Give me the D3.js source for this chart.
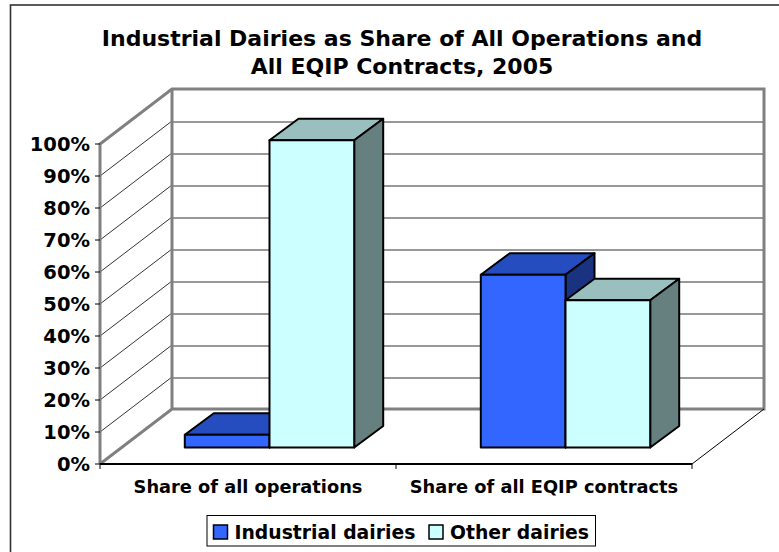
<!DOCTYPE html>
<html><head><meta charset="utf-8">
<script src="https://cdn.jsdelivr.net/npm/d3@7"></script>
<style>html,body{margin:0;padding:0;background:#fff}svg{display:block}text{font-family:"DejaVu Sans",Verdana,sans-serif;font-weight:bold;fill:#000}</style>
</head><body><script>
const categories=["Share of all operations","Share of all EQIP contracts"];
const seriesNames=["Industrial dairies","Other dairies"];
const industrial=[4,54];
const other=[96,46];
const yTicks=[0,10,20,30,40,50,60,70,80,90,100];
const titleLines=["Industrial Dairies as Share of All Operations and","All EQIP Contracts, 2005"];
const colors=[{front:"#3366ff",top:"#254dbf",side:"#1a3380"},{front:"#ccffff",top:"#99c0bf",side:"#668080"}];

const svg=d3.select("body").append("svg").attr("width",779).attr("height",552);
svg.append("rect").attr("x",10.5).attr("y",5).attr("width",790).attr("height",560).attr("fill","#fff").attr("stroke","#333").attr("stroke-width",1.6);
svg.selectAll(".t").data(titleLines).join("text").attr("x",402).attr("y",(d,i)=>46+i*28)
  .attr("text-anchor","middle").attr("font-size",22).text(d=>d);

const y=d3.scaleLinear().domain([0,100]).range([464,144]);
const x=d3.scaleBand().domain(categories).range([100,692]);
const wall={dx:72,dy:-55}, barOff={dx:22,dy:-16.5}, barDepth={dx:29,dy:-21.5};
const grey="#808080";
const line=(a,b,c,w)=>svg.append("line").attr("x1",a[0]).attr("y1",a[1]).attr("x2",b[0]).attr("y2",b[1]).attr("stroke",c).attr("stroke-width",w);

// gridlines
yTicks.slice(1,-1).forEach(t=>{
  line([x.range()[0],y(t)],[x.range()[0]+wall.dx,y(t)+wall.dy],"#000",.8);
  line([x.range()[0]+wall.dx,y(t)+wall.dy+1],[x.range()[1]+wall.dx,y(t)+wall.dy+1],"#333",1.2);
});
// walls
svg.append("path").attr("fill","none").attr("stroke",grey).attr("stroke-width",3).attr("stroke-linejoin","miter")
  .attr("d",d3.line()([[x.range()[0],y(0)],[x.range()[0],y(100)],[x.range()[0]+wall.dx,y(100)+wall.dy],[x.range()[1]+wall.dx,y(100)+wall.dy],[x.range()[1]+wall.dx,y(0)+wall.dy],[x.range()[0]+wall.dx,y(0)+wall.dy],[x.range()[0],y(0)]]));
line([x.range()[0]+wall.dx,y(100)+wall.dy],[x.range()[0]+wall.dx,y(0)+wall.dy],grey,3);
// floor
line([x.range()[1],y(0)],[x.range()[1]+wall.dx,y(0)+wall.dy],"#000",1);
line([x.range()[0],y(0)],[x.range()[1],y(0)],"#000",2);
[...x.domain().map(c=>x(c)),x.range()[1]].forEach(px=>line([px,y(0)],[px,y(0)+5],"#000",1));
yTicks.forEach(t=>line([x.range()[0]-5,y(t)],[x.range()[0],y(t)],"#000",1));

// y labels
svg.selectAll(".yl").data(yTicks).join("text").attr("x",90).attr("y",t=>y(t)+7)
  .attr("text-anchor","end").attr("font-size",19.5).text(t=>t+"%");
// x labels
svg.selectAll(".xl").data(categories).join("text").attr("x",c=>x(c)+x.bandwidth()/2).attr("y",492.5)
  .attr("text-anchor","middle").attr("font-size",17.8).text(c=>c);

// bars
const barW=84.7;
const drawBar=(x0,v,c)=>{
  const b=y(0)+barOff.dy, t=y(v)+barOff.dy, x1=x0+barW, dx=barDepth.dx, dy=barDepth.dy;
  const g=svg.append("g").attr("stroke","#000").attr("stroke-width",2).attr("stroke-linejoin","round");
  g.append("path").attr("fill",c.top).attr("d",d3.line()([[x0,t],[x0+dx,t+dy],[x1+dx,t+dy],[x1,t]])+"Z");
  g.append("path").attr("fill",c.side).attr("d",d3.line()([[x1,t],[x1+dx,t+dy],[x1+dx,b+dy],[x1,b]])+"Z");
  g.append("rect").attr("x",x0).attr("y",t).attr("width",barW).attr("height",b-t).attr("fill",c.front);
};
categories.forEach((cat,i)=>{
  const mid=x(cat)+x.bandwidth()/2+barOff.dx-.5;
  drawBar(mid-barW,industrial[i],colors[0]);
  drawBar(mid,other[i],colors[1]);
});

// legend
svg.append("rect").attr("x",207).attr("y",515.5).attr("width",388.5).attr("height",30.5).attr("fill","#fff").attr("stroke","#000");
const lx=[213.5,429];
seriesNames.forEach((s,i)=>{
  svg.append("rect").attr("x",lx[i]).attr("y",525).attr("width",14).attr("height",14).attr("fill",colors[i].front).attr("stroke","#000").attr("stroke-width",1.5);
  svg.append("text").attr("x",lx[i]+21).attr("y",539).attr("font-size",18.8).text(s);
});
</script></body></html>
